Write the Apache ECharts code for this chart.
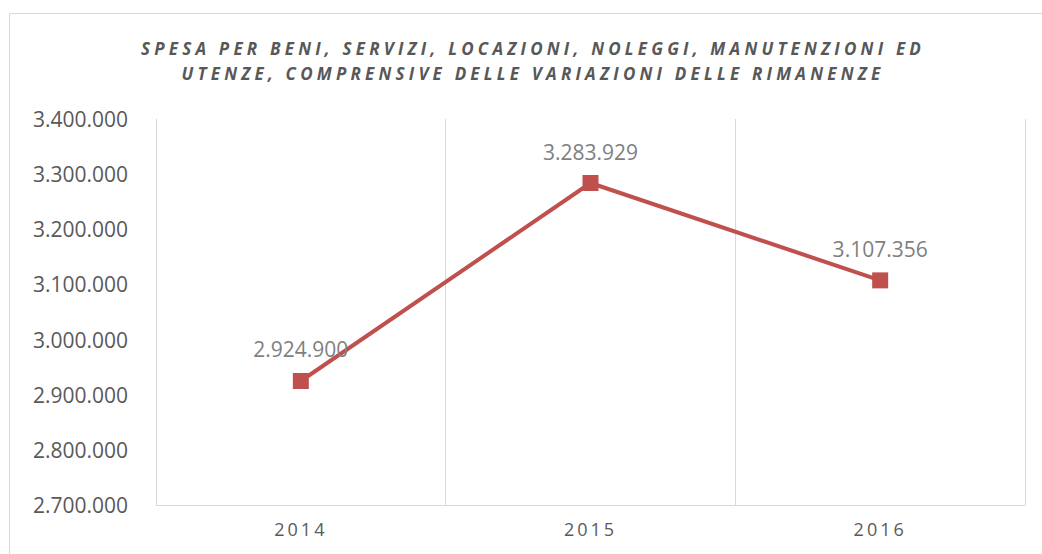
<!DOCTYPE html>
<html>
<head>
<meta charset="utf-8">
<script src="https://cdn.jsdelivr.net/npm/echarts@6/dist/echarts.min.js"></script>
<style>
  html, body { margin: 0; padding: 0; background: #ffffff; }
  #chart { width: 1042px; height: 554px; }
  /* letter spacing for the title and the year labels (SVG renderer) */
  #chart svg text[fill="#585858"] { letter-spacing: 4.2px; }
  #chart svg text[fill="#5a5a5a"] { letter-spacing: 3px; }
</style>
</head>
<body>
<div id="chart"></div>
<script>
// Years on the category axis
const years = ['2014', '2015', '2016'];
// Annual spending (euro)
const spesa = [2924900, 3283929, 3107356];
// Value axis range and step
const yMin = 2700000;
const yMax = 3400000;
const yStep = 100000;
// Title lines
const titleLines = [
  'SPESA PER BENI, SERVIZI, LOCAZIONI, NOLEGGI, MANUTENZIONI ED',
  'UTENZE, COMPRENSIVE DELLE VARIAZIONI DELLE RIMANENZE'
];

// Italian thousands separator: 3400000 -> 3.400.000
function fmt(v) {
  return String(Math.round(v)).replace(/\B(?=(\d{3})+(?!\d))/g, '.');
}

const chart = echarts.init(document.getElementById('chart'), null, { renderer: 'svg' });

const FONT = '"Open Sans", "DejaVu Sans", sans-serif';

chart.setOption({
  animation: false,
  backgroundColor: '#ffffff',
  graphic: [
    {
      type: 'rect',
      shape: { x: 9.5, y: 13.5, width: 1100, height: 600 },
      style: { fill: 'none', stroke: '#d9d9d9', lineWidth: 1 },
      silent: true
    },
    {
      type: 'text',
      x: 533, y: 48,
      style: {
        text: titleLines[0],
        fill: '#585858',
        font: 'italic bold 17px ' + FONT,
        textAlign: 'center',
        textVerticalAlign: 'middle'
      }
    },
    {
      type: 'text',
      x: 533, y: 73,
      style: {
        text: titleLines[1],
        fill: '#585858',
        font: 'italic bold 17px ' + FONT,
        textAlign: 'center',
        textVerticalAlign: 'middle'
      }
    }
  ],
  grid: { left: 156, right: 17, top: 119, bottom: 49, containLabel: false },
  xAxis: {
    type: 'category',
    data: years,
    boundaryGap: true,
    axisLine: { show: true, lineStyle: { color: '#d9d9d9', width: 1 } },
    axisTick: { show: false },
    axisLabel: {
      color: '#5a5a5a',
      fontFamily: FONT,
      fontSize: 18,
      margin: 15
    },
    splitLine: { show: true, lineStyle: { color: '#d9d9d9', width: 1 } }
  },
  yAxis: {
    type: 'value',
    min: yMin,
    max: yMax,
    interval: yStep,
    axisLine: { show: true, lineStyle: { color: '#d9d9d9', width: 1 } },
    axisTick: { show: false },
    splitLine: { show: false },
    axisLabel: {
      color: '#595959',
      fontFamily: FONT,
      fontSize: 21,
      margin: 28,
      formatter: fmt
    }
  },
  series: [{
    type: 'line',
    data: spesa,
    symbol: 'rect',
    symbolSize: 16,
    lineStyle: { color: '#c0504d', width: 4 },
    itemStyle: { color: '#c0504d' },
    label: {
      show: true,
      position: 'top',
      distance: 13,
      color: '#7f7f7f',
      fontFamily: FONT,
      fontSize: 21,
      formatter: p => fmt(p.value)
    }
  }]
});
</script>
</body>
</html>
